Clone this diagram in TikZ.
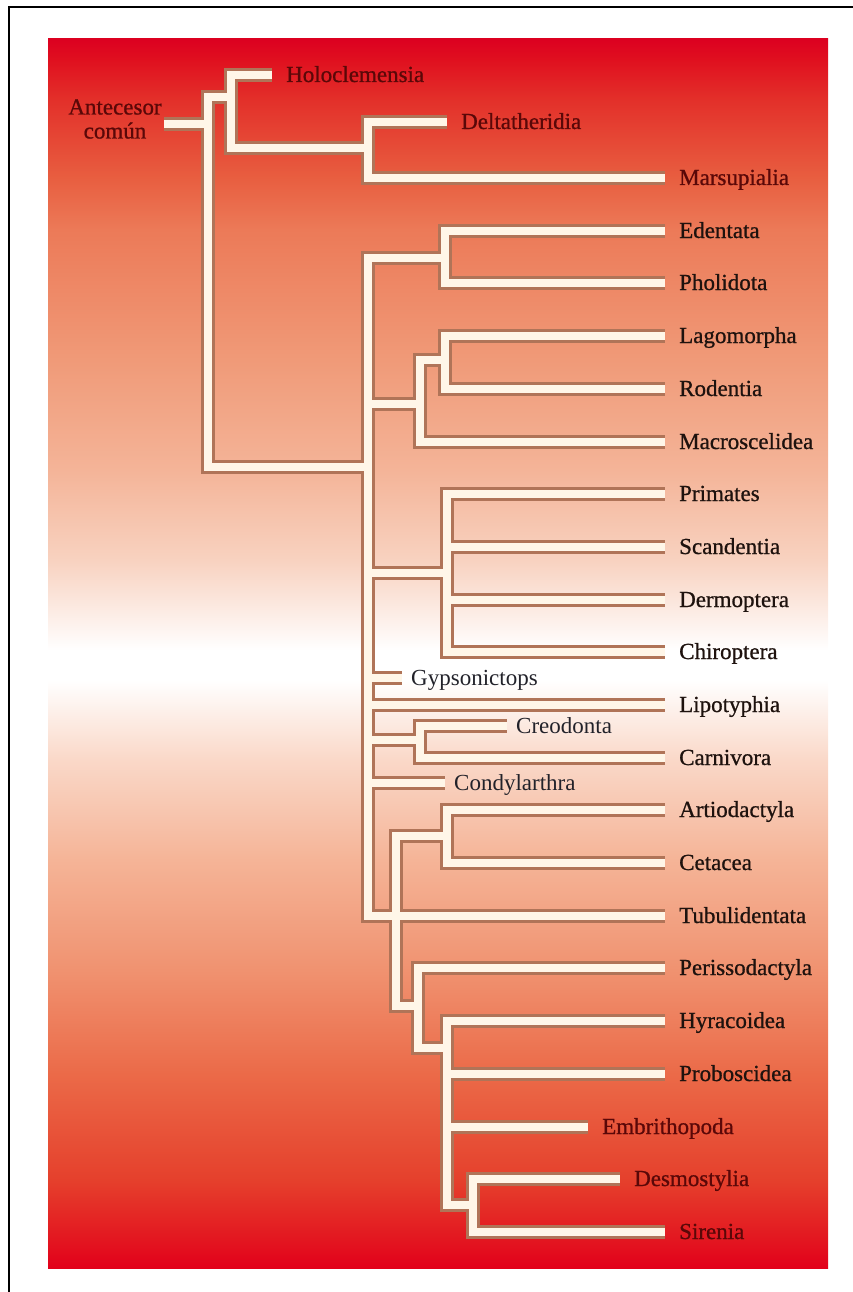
\documentclass[tikz,border=0pt]{standalone}
\usepackage{fontspec}
\setmainfont{Liberation Serif}
\newfontfamily\labfont{Liberation Serif}[FakeBold=0.8]
\definecolor{creme}{HTML}{FFF6E8}
\definecolor{edgebrn}{HTML}{B07458}
\definecolor{labred}{HTML}{5A0808}
\definecolor{labdark}{HTML}{1E120E}
\definecolor{labgrey}{HTML}{22222A}
\definecolor{pf0}{HTML}{E2001A}
\definecolor{pf1}{HTML}{E31620}
\definecolor{pf2}{HTML}{E5402C}
\definecolor{pf3}{HTML}{EB6A48}
\definecolor{pf4}{HTML}{F09270}
\definecolor{pf5}{HTML}{F5B497}
\definecolor{pf6}{HTML}{FAD8C8}
\definecolor{pf7}{HTML}{FFFFFF}
\definecolor{pf8}{HTML}{F8D2C0}
\definecolor{pf9}{HTML}{F4B498}
\definecolor{pf10}{HTML}{F09A78}
\definecolor{pf11}{HTML}{EC7A58}
\definecolor{pf12}{HTML}{E85E40}
\definecolor{pf13}{HTML}{E3302A}
\definecolor{pf14}{HTML}{E0101F}
\definecolor{pf15}{HTML}{DC0020}
\pgfdeclareverticalshading{panelfade}{100bp}{color(0bp)=(pf0); color(25bp)=(pf0);
  color(26.14bp)=(pf1); color(28.58bp)=(pf2); color(32.89bp)=(pf3); color(37.12bp)=(pf4);
  color(41.6bp)=(pf5); color(45.67bp)=(pf6); color(48.92bp)=(pf7); color(50.14bp)=(pf7);
  color(53.8bp)=(pf8); color(57.47bp)=(pf9); color(61.94bp)=(pf10); color(67.23bp)=(pf11);
  color(69.35bp)=(pf12); color(72.52bp)=(pf13); color(74.15bp)=(pf14); color(75bp)=(pf15);
  color(100bp)=(pf15)}

\begin{document}
\begin{tikzpicture}[x=1pt,y=-1pt,
  lab/.style={anchor=west,inner xsep=14pt,inner ysep=0pt,text height=15pt,text depth=1pt,
              font=\labfont\fontsize{23}{26}\selectfont,text=labdark},
  labr/.style={lab,text=labred},
  labg/.style={lab,inner xsep=9pt,font=\fontsize{23}{26}\selectfont,text=labgrey},
  ancst/.style={align=center,inner sep=2pt,font=\labfont\fontsize{23}{24}\selectfont,text=labred},
  branch/.style={draw=edgebrn,line width=3pt,double=creme,double distance=7.5pt}]

\useasboundingbox (0,0) rectangle (853,1292);
\draw[line width=2pt] (9,1292) -- (9,7) -- (853,7);
\shade[shading=panelfade] (48,39) rectangle (828,1268);

\node[ancst](anc) at (115,119){Antecesor\\común};
\node[labr](hol) at (272,75){Holoclemensia};
\node[labr](del) at (447,122){Deltatheridia};
\node[labr](mar) at (665,178){Marsupialia};
\node[lab](ede) at (665,231){Edentata};
\node[lab](pho) at (665,283){Pholidota};
\node[lab](lag) at (665,336){Lagomorpha};
\node[lab](rod) at (665,389){Rodentia};
\node[lab](mac) at (665,442){Macroscelidea};
\node[lab](pri) at (665,494){Primates};
\node[lab](sca) at (665,547){Scandentia};
\node[lab](der) at (665,600){Dermoptera};
\node[lab](chi) at (665,652){Chiroptera};
\node[labg](gyp) at (402,678){Gypsonictops};
\node[lab](lip) at (665,705){Lipotyphia};
\node[labg](cre) at (507,726){Creodonta};
\node[lab](car) at (665,758){Carnivora};
\node[labg](con) at (445,783){Condylarthra};
\node[lab](art) at (665,810){Artiodactyla};
\node[lab](cet) at (665,863){Cetacea};
\node[lab](tub) at (665,916){Tubulidentata};
\node[lab](per) at (665,968){Perissodactyla};
\node[lab](hyr) at (665,1021){Hyracoidea};
\node[lab](pro) at (665,1074){Proboscidea};
\node[labr](emb) at (588,1127){Embrithopoda};
\node[labr](des) at (620,1179){Desmostylia};
\node[labr](sir) at (665,1232){Sirenia};

% clade points: x of the bar, y where it meets its parent
\coordinate (root) at (208,124); \coordinate (cA) at (231,97);
\coordinate (cDM) at (368,148);  \coordinate (cP) at (368,467);
\coordinate (cEP) at (445,258);  \coordinate (cGM) at (420,404);
\coordinate (cGl) at (445,360);  \coordinate (cAr) at (447,573);
\coordinate (cCC) at (420,740);  \coordinate (cU) at (396,916);
\coordinate (cAC) at (447,836);  \coordinate (cPP) at (418,1006);
\coordinate (cPa) at (447,1048); \coordinate (cDS) at (473,1205);

\draw[branch] (anc.east |- root) -- (root)
  (root) |- (cA) (root) |- (cP)
  (cA) |- (hol) (cA) |- (cDM) (cDM) |- (del) (cDM) |- (mar)
  (cP) |- (cEP) (cP) |- (cGM) (cP) |- (cAr) (cP) |- (gyp) (cP) |- (lip)
  (cP) |- (cCC) (cP) |- (con) (cP) |- (tub) (cP) |- (cU)
  (cEP) |- (ede) (cEP) |- (pho)
  (cGM) |- (cGl) (cGM) |- (mac) (cGl) |- (lag) (cGl) |- (rod)
  (cAr) |- (pri) (cAr) |- (sca) (cAr) |- (der) (cAr) |- (chi)
  (cCC) |- (cre) (cCC) |- (car)
  (cU) |- (cAC) (cU) |- (cPP) (cAC) |- (art) (cAC) |- (cet)
  (cPP) |- (per) (cPP) |- (cPa)
  (cPa) |- (hyr) (cPa) |- (pro) (cPa) |- (emb) (cPa) |- (cDS)
  (cDS) |- (des) (cDS) |- (sir);
\end{tikzpicture}
\end{document}
